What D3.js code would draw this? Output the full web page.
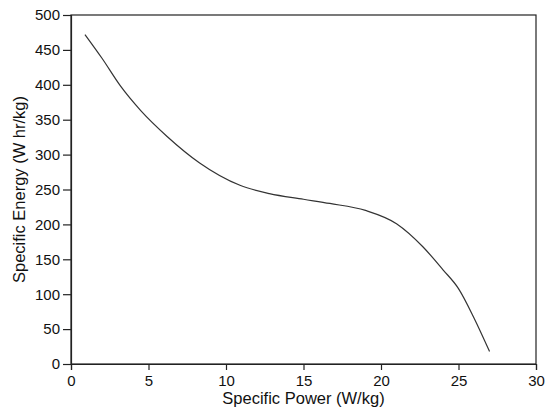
<!DOCTYPE html>
<html>
<head>
<meta charset="utf-8">
<script src="https://cdn.jsdelivr.net/npm/d3@7"></script>
<style>
  body { margin: 0; background: #fff; }
  svg { display: block; }
  text { font-family: "Liberation Sans", Arial, Helvetica, sans-serif; fill: #111; }
</style>
</head>
<body>
<div id="chart"></div>
<script>
// Data
const power = [0.9, 2, 3.2, 4.5, 6.2, 8.3, 10.9, 12.8, 15, 16.7, 19, 21, 22.7, 24, 25, 26, 27];
const energy = [472, 438, 398, 363, 326, 288, 256, 244, 236, 230, 220, 201, 168, 135, 108, 66, 18];
const xTicks = [0, 5, 10, 15, 20, 25, 30];
const yTicks = [0, 50, 100, 150, 200, 250, 300, 350, 400, 450, 500];

const width = 546, height = 412;
const margin = { top: 15, right: 10, bottom: 48, left: 71 };
const innerW = 536 - margin.left;
const innerH = 364 - margin.top;

const svg = d3.select("#chart")
    .append("svg")
    .attr("width", width)
    .attr("height", height);

const g = svg.append("g")
    .attr("transform", `translate(${margin.left},${margin.top})`);

const x = d3.scaleLinear().domain([0, 30]).range([0, innerW]);
const y = d3.scaleLinear().domain([0, 500]).range([innerH, 0]);

// frame
g.append("rect")
    .attr("width", innerW)
    .attr("height", innerH)
    .attr("fill", "none")
    .attr("stroke", "#222")
    .attr("stroke-width", 1.2);

// axes
const xAxis = g.append("g")
    .attr("transform", `translate(0,${innerH})`)
    .call(d3.axisBottom(x).tickValues(xTicks).tickSize(6).tickPadding(5));

const yAxis = g.append("g")
    .call(d3.axisLeft(y).tickValues(yTicks).tickSize(8).tickPadding(3));

[xAxis, yAxis].forEach(a => {
    a.select(".domain").attr("stroke", "#222").attr("stroke-width", 1.2);
    a.selectAll(".tick line").attr("stroke", "#222").attr("stroke-width", 1.2);
    a.selectAll(".tick text")
        .attr("font-size", 15)
        .attr("font-family", "'Liberation Sans', Arial, sans-serif")
        .attr("fill", "#111");
});

// curve
const line = d3.line()
    .x((d, i) => x(power[i]))
    .y(d => y(d))
    .curve(d3.curveMonotoneX);

g.append("path")
    .datum(energy)
    .attr("fill", "none")
    .attr("stroke", "#333")
    .attr("stroke-width", 1.2)
    .attr("d", line);

// titles
svg.append("text")
    .attr("x", margin.left + innerW / 2)
    .attr("y", 404)
    .attr("text-anchor", "middle")
    .attr("font-size", 16.5)
    .text("Specific Power (W/kg)");

svg.append("text")
    .attr("transform", `translate(25,${margin.top + innerH / 2}) rotate(-90)`)
    .attr("text-anchor", "middle")
    .attr("font-size", 16.5)
    .text("Specific Energy (W hr/kg)");
</script>
</body>
</html>
